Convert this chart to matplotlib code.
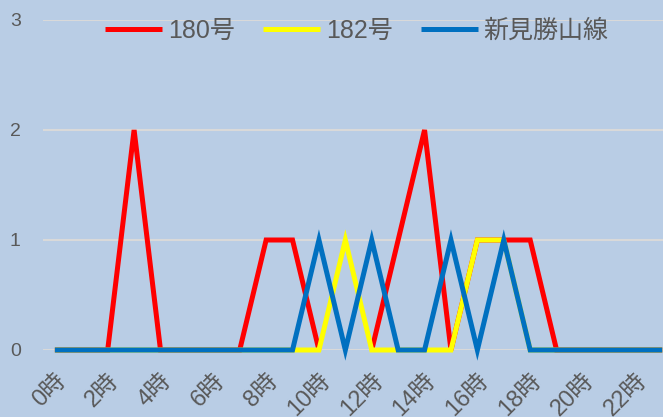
import numpy as np
import matplotlib.pyplot as plt

plt.rcParams['font.family'] = ['Liberation Sans', 'Noto Sans CJK JP', 'DejaVu Sans']

hours = list(range(24))
hour_labels = ['{}時'.format(h) for h in hours]

r180 = [0, 0, 0, 2, 0, 0, 0, 0, 1, 1, 0, None, 0, 1, 2, 0, 1, 1, 1, 0, 0, 0, 0, 0]
r182 = [0, 0, 0, 0, 0, 0, 0, 0, 0, 0, 0, 1, 0, 0, 0, 0, 1, 1, 0, 0, 0, 0, 0, 0]
niimi = [0, 0, 0, 0, 0, 0, 0, 0, 0, 0, 1, 0, 1, 0, 0, 1, 0, 1, 0, 0, 0, 0, 0, 0]

series = [('180号', r180, '#FF0000'), ('182号', r182, '#FFFF00'), ('新見勝山線', niimi, '#0070C0')]

bg = '#B9CDE5'
text_col = '#595959'

fig = plt.figure(figsize=(6.63, 4.17), dpi=100, facecolor=bg)
ax = fig.add_axes([43 / 663, 67 / 417, 620 / 663, 330 / 417])
ax.set_facecolor(bg)

for name, vals, col in series:
    y = np.array([np.nan if v is None else v for v in vals], dtype=float)
    ax.plot(hours, y, color=col, lw=3.6, label=name, clip_on=False,
            solid_joinstyle='miter', solid_capstyle='butt', zorder=3)

ax.set_xlim(-0.45, 23.03)
ax.set_ylim(0, 3)
ax.set_yticks([0, 1, 2, 3])
ax.grid(axis='y', color='#D9D9D9', lw=1.5, zorder=0)
ax.set_xticks(hours[::2])
ax.set_xticklabels(hour_labels[::2], rotation=45, ha='right', va='top',
                   rotation_mode='anchor', fontsize=17, color=text_col)
ax.tick_params(axis='y', labelsize=14, labelcolor=text_col, length=0, pad=16)
ax.tick_params(axis='x', length=0, pad=14)
for s in ax.spines.values():
    s.set_visible(False)

fig.legend(loc='center left', bbox_to_anchor=(105 / 663, 1 - 31 / 417), ncol=3,
           frameon=False, fontsize=18, labelcolor=text_col, handlelength=2.28,
           handletextpad=0.24, columnspacing=1.12, borderpad=0, borderaxespad=0)

fig.savefig('out.png', dpi=100, facecolor=bg)
